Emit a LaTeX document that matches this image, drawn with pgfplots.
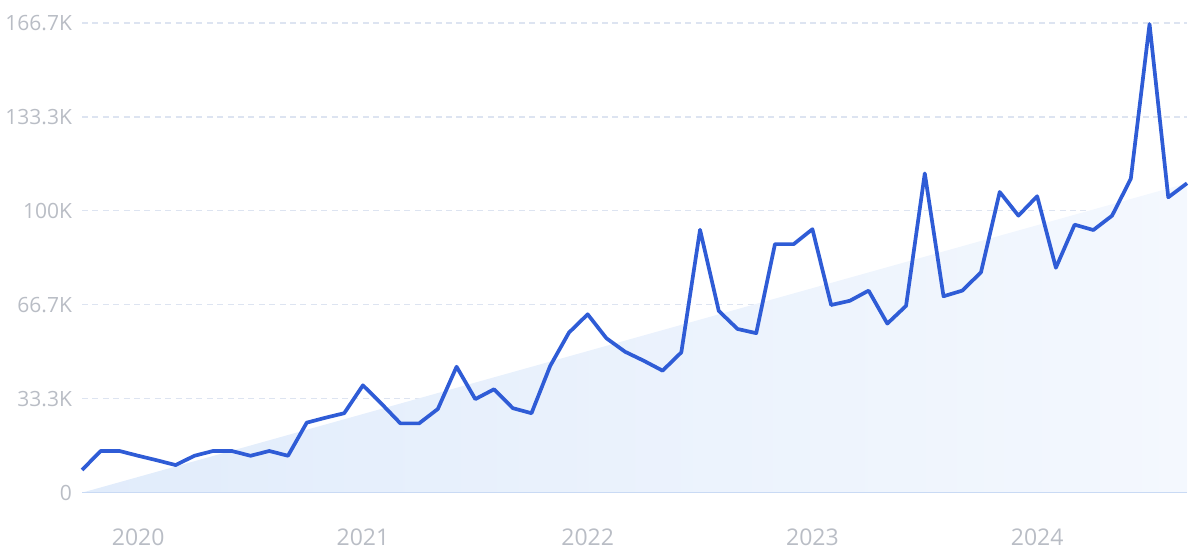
\documentclass[border=0pt]{standalone}
\usepackage{pgfplots}
\pgfplotsset{compat=1.18}
\usepackage{fontspec}
\setmainfont{Open Sans}
\definecolor{lineblue}{HTML}{2F5CD6}
\definecolor{gridc}{HTML}{DDE4F1}
\definecolor{basec}{HTML}{C9DAF4}
\definecolor{fillA}{HTML}{E1ECFB}
\definecolor{fillB}{HTML}{F4F8FE}
\definecolor{labc}{HTML}{B9BDC5}
\begin{document}
\begin{tikzpicture}[x=1pt,y=1pt]
\useasboundingbox (0,0) rectangle (600,277.5);
\begin{axis}[
  at={(41pt,31.15pt)}, anchor=south west,
  scale only axis, width=552.5pt, height=234.85pt,
  xmin=-3, xmax=56, ymin=0, ymax=166666.67,
  xtick={0,12,24,36,48}, xticklabels={2020,2021,2022,2023,2024},
  ytick={0,33333.33,66666.67,100000,133333.33,166666.67},
  yticklabels={0,33.3K,66.7K,100K,133.3K,166.7K},
  scaled y ticks=false,
  major tick length=0,
  axis line style={draw=none},
  ymajorgrids, grid style={gridc, dash pattern=on 3pt off 2.2pt, line width=0.6pt},
  yticklabel style={font=\fontsize{10.5}{12}\selectfont, text=labc, anchor=east, xshift=-1.5pt},
  xticklabel style={font=\fontsize{11.5}{13}\selectfont, text=labc, anchor=north, yshift=-14.5pt},
  clip=false,
]
\addplot[draw=none, left color=fillA, right color=fillB] coordinates {(-3,0) (56,109800) (56,0)} -- cycle;
\draw[basec, line width=0.8pt] (axis cs:-3,0) -- (axis cs:56,0);
\addplot[lineblue, line width=1.85pt, line join=round, no markers] coordinates {
(-3,8060) (-2,14800) (-1,14800) (0,13100) (1,11500) (2,9800) (3,13100) (4,14800) (5,14800) (6,13100)
(7,14800) (8,13100) (9,24850) (10,26600) (11,28200) (12,38100) (13,31500) (14,24600) (15,24600) (16,29700)
(17,44700) (18,33200) (19,36700) (20,30000) (21,28200) (22,45000) (23,56800) (24,63300) (25,54800) (26,50000)
(27,46800) (28,43300) (29,49800) (30,93300) (31,64500) (32,58100) (33,56600) (34,88200) (35,88200) (36,93500)
(37,66600) (38,68100) (39,71700) (40,60000) (41,66300) (42,113300) (43,69700) (44,71700) (45,78200) (46,106700)
(47,98300) (48,105200) (49,79800) (50,95100) (51,93200) (52,98300) (53,111400) (54,166300) (55,104800) (56,109800)
};
\end{axis}
\end{tikzpicture}
\end{document}
